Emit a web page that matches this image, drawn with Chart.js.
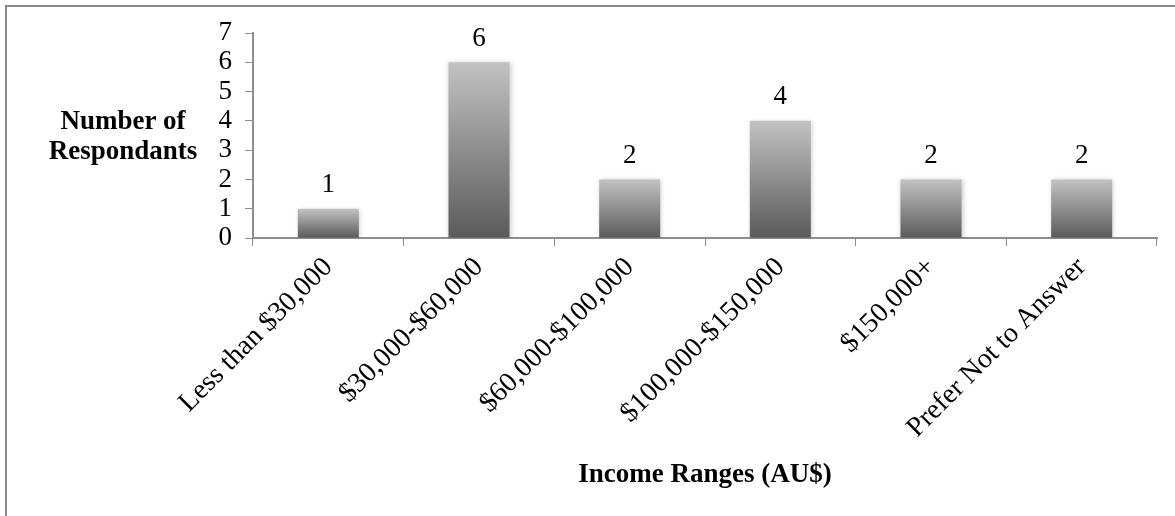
<!DOCTYPE html>
<html>
<head>
<meta charset="utf-8">
<title>Income Ranges</title>
<script src="https://cdn.jsdelivr.net/npm/chart.js@4.4.0/dist/chart.umd.min.js"></script>
<style>
    html, body {
        margin: 0;
        padding: 0;
        background: #ffffff;
        overflow: hidden;
    }
    .frame {
        position: absolute;
        left: 5px;
        top: 5px;
        width: 1175px;
        height: 516px;
        border-top: 2px solid #8a8a8a;
        border-left: 2px solid #8a8a8a;
    }
    .chart-box {
        position: absolute;
        left: 0;
        top: 0;
        width: 1175px;
        height: 516px;
    }
</style>
</head>
<body>
<div class="frame"></div>
<div class="chart-box"><canvas id="incomeChart"></canvas></div>
<script>
// Survey data
const incomeRanges = ['Less than $30,000', '$30,000-$60,000', '$60,000-$100,000', '$100,000-$150,000', '$150,000+', 'Prefer Not to Answer'];
const respondents = [1, 6, 2, 4, 2, 2];
const yTicks = [0, 1, 2, 3, 4, 5, 6, 7];
const yTitleLines = ['Number of', 'Respondants'];
const xTitle = 'Income Ranges (AU$)';

const FONT = "'Liberation Serif', 'Times New Roman', serif";
const AXIS_GRAY = '#8e8e8e';

// Vertical grey gradient per bar, light at the top, dark at the base
function barGradient(context) {
    const chart = context.chart;
    const y = chart.scales.y;
    if (context.type !== 'data' || !y) return '#8a8a8a';
    const top = y.getPixelForValue(context.raw);
    const base = y.getPixelForValue(0);
    if (!isFinite(top) || !isFinite(base) || top === base) return '#8a8a8a';
    const g = chart.ctx.createLinearGradient(0, top, 0, base);
    g.addColorStop(0, '#c2c2c2');
    g.addColorStop(1, '#5a5a5a');
    return g;
}

// Soft shadow behind the bars
const barShadow = {
    id: 'barShadow',
    beforeDatasetsDraw(chart) {
        const ctx = chart.ctx;
        ctx.save();
        ctx.shadowColor = 'rgba(0, 0, 0, 0.22)';
        ctx.shadowBlur = 5;
        ctx.shadowOffsetX = 1;
        ctx.shadowOffsetY = 1;
    },
    afterDatasetsDraw(chart) {
        chart.ctx.restore();
    }
};

// Value labels above bars + horizontal y-axis title
const chartText = {
    id: 'chartText',
    afterDraw(chart) {
        const ctx = chart.ctx;
        ctx.save();
        ctx.fillStyle = '#000000';
        ctx.textAlign = 'center';

        ctx.font = '27px ' + FONT;
        ctx.textBaseline = 'bottom';
        chart.getDatasetMeta(0).data.forEach((bar, i) => {
            ctx.fillText(String(respondents[i]), bar.x, bar.y - 10);
        });

        ctx.font = 'bold 27px ' + FONT;
        ctx.textBaseline = 'middle';
        yTitleLines.forEach((line, i) => {
            ctx.fillText(line, 123, 122 + i * 30);
        });
        ctx.restore();
    }
};

function createIncomeChart() {
    const ctx = document.getElementById('incomeChart');
    if (!ctx) return;

    new Chart(ctx, {
        type: 'bar',
        data: {
            labels: incomeRanges,
            datasets: [{
                label: 'Respondants',
                data: respondents,
                backgroundColor: barGradient,
                borderWidth: 0,
                categoryPercentage: 1,
                barPercentage: 0.405
            }]
        },
        options: {
            responsive: true,
            maintainAspectRatio: false,
            animation: false,
            layout: {
                padding: { left: 0, top: 33, right: 18, bottom: 0 }
            },
            plugins: {
                legend: { display: false },
                tooltip: { enabled: false }
            },
            scales: {
                x: {
                    afterFit: function(scale) { scale.height = 516 - 33 - 205; },
                    grid: {
                        offset: true,
                        drawOnChartArea: false,
                        drawTicks: true,
                        tickLength: 8,
                        color: AXIS_GRAY
                    },
                    border: { color: AXIS_GRAY, width: 2 },
                    ticks: {
                        minRotation: 45,
                        maxRotation: 45,
                        autoSkip: false,
                        padding: 5,
                        color: '#000000',
                        font: { size: 28, family: FONT }
                    },
                    title: {
                        display: true,
                        text: xTitle,
                        color: '#000000',
                        padding: { top: 0, bottom: 25 },
                        font: { size: 27, family: FONT, weight: 'bold' }
                    }
                },
                y: {
                    min: 0,
                    max: 7,
                    afterFit: function(scale) { scale.width = 253; },
                    afterBuildTicks: function(scale) {
                        scale.ticks = yTicks.map(v => ({ value: v }));
                    },
                    grid: {
                        drawOnChartArea: false,
                        drawTicks: true,
                        tickLength: 8,
                        color: AXIS_GRAY
                    },
                    border: { color: AXIS_GRAY, width: 2 },
                    ticks: {
                        autoSkip: false,
                        stepSize: 1,
                        padding: 13,
                        color: '#000000',
                        font: { size: 27, family: FONT }
                    }
                }
            }
        },
        plugins: [barShadow, chartText]
    });
}

createIncomeChart();
</script>
</body>
</html>
